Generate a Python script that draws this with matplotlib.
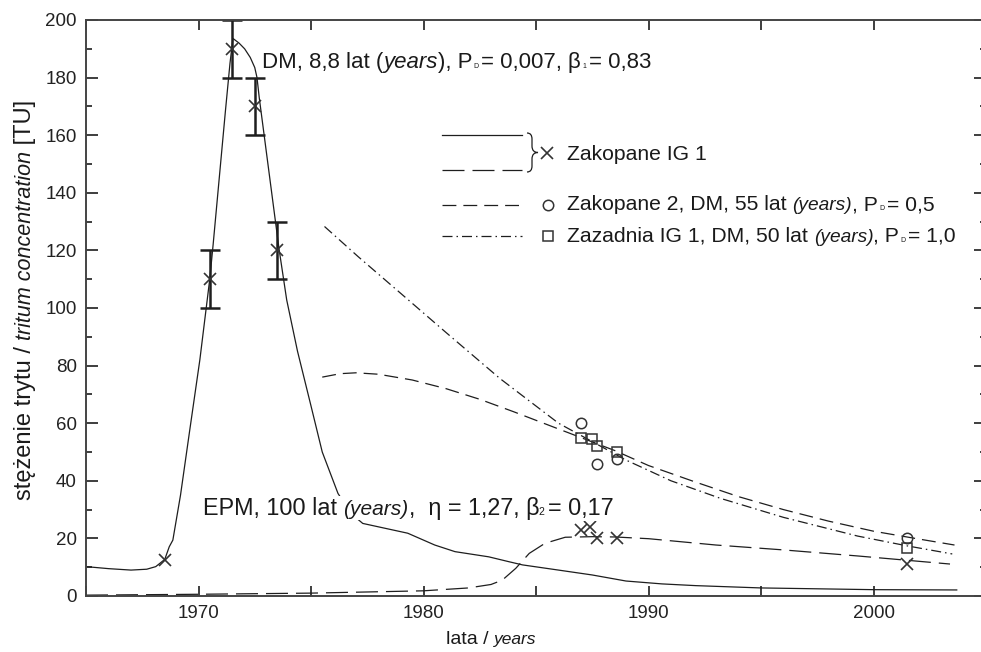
import matplotlib
matplotlib.use("Agg")
import numpy as np
import matplotlib.pyplot as plt
from matplotlib.lines import Line2D
from matplotlib.path import Path
from matplotlib.patches import PathPatch
from matplotlib.transforms import Affine2D

W, H = 981, 652
plt.rcParams["font.family"] = ["Liberation Sans", "DejaVu Sans"]

# ---- model curves -------------------------------------------------------
# DM, 8.8 years (Zakopane IG 1)
dm_year = [1965.0, 1966.0, 1967.0, 1967.7, 1968.1, 1968.5, 1968.7, 1968.86, 1969.2,
           1969.6, 1970.06, 1970.5, 1970.65, 1971.2, 1971.4, 1971.53, 1971.8, 1972.05,
           1972.3, 1972.5, 1972.6, 1972.7, 1973.58, 1973.92, 1974.4, 1975.0, 1975.5,
           1976.2, 1976.8, 1977.3, 1978.3, 1979.3, 1980.5, 1981.4, 1982.9, 1983.8,
           1984.4, 1986.0, 1987.5, 1989.0, 1990.6, 1992.1, 1995.0, 2000.0, 2003.7]
dm_tu = [10.2, 9.5, 9.0, 9.3, 10.2, 12.7, 17.1, 19.4, 35.0,
         57.0, 82.0, 110.0, 122.0, 168.7, 185.0, 193.6, 192.0, 190.0,
         187.0, 183.5, 180.0, 173.0, 120.5, 102.8, 85.0, 66.0, 50.0,
         35.6, 28.5, 25.2, 23.5, 21.8, 17.7, 15.4, 13.6, 11.9,
         10.8, 9.0, 7.3, 5.2, 4.2, 3.6, 2.8, 2.2, 2.1]

# EPM, 100 years (Zakopane IG 1)
epm_year = [1965.0, 1970.0, 1975.0, 1980.0, 1982.0, 1983.0, 1983.5, 1984.1, 1984.7,
            1985.4, 1986.3, 1987.5, 1988.5, 1990.0, 1993.0, 1996.0, 1999.3, 2003.4]
epm_tu = [0.3, 0.6, 1.0, 1.8, 2.8, 4.0, 5.5, 9.6, 14.8,
          18.3, 20.4, 20.6, 20.5, 19.9, 17.7, 16.0, 13.9, 11.1]

# DM, 55 years (Zakopane 2)
zak2_year = [1975.5, 1976.3, 1977.0, 1978.0, 1979.5, 1981.0, 1982.5, 1984.0, 1985.5,
             1987.0, 1988.5, 1990.0, 1992.0, 1994.0, 1996.0, 1998.0, 2000.0, 2002.0,
             2003.6]
zak2_tu = [76.0, 77.2, 77.5, 77.0, 75.0, 72.0, 68.3, 64.0, 59.5,
           55.0, 50.5, 45.3, 39.8, 34.5, 30.0, 26.0, 22.5, 19.8,
           17.7]

# DM, 50 years (Zazadnia IG 1)
zaz_year = [1975.6, 1977.1, 1979.0, 1981.0, 1983.4, 1986.0, 1989.0, 1991.0, 1993.2,
            1996.0, 1999.3, 2001.5, 2003.5]
zaz_tu = [128.3, 117.8, 105.0, 91.5, 75.5, 60.0, 47.2, 40.0, 33.9,
          27.3, 20.8, 17.4, 14.6]

# ---- measurements -------------------------------------------------------
ig1_year = [1968.5, 1970.5, 1971.5, 1972.5, 1973.5, 1987.0, 1987.4, 1987.7, 1988.6, 2001.5]
ig1_tu = [12.5, 110, 190, 170, 120, 23, 24, 20, 20, 11]
ig1_err = [0, 10, 10, 10, 10, 0, 0, 0, 0, 0]

zak2_obs_year = [1987.0, 1987.7, 1988.6, 2001.5]
zak2_obs_tu = [60, 46, 47.5, 20]

zaz_obs_year = [1987.0, 1987.5, 1987.7, 1988.6, 2001.5]
zaz_obs_tu = [55, 54.5, 52, 50, 16.5]

x_major = [1970, 1980, 1990, 2000]
x_minor = [1965, 1975, 1985, 1995, 2005]

ink = "#1e1e1e"
mk = "#333333"
lw = 0.9
dash_epm = (17.6, 6.4)
dash_zak2 = (11.1, 5.6)
dash_zaz = (8.0, 3.2, 1.2, 3.2)

fig = plt.figure(figsize=(W / 100, H / 100), dpi=100)
ax = fig.add_axes([86 / W, 56 / H, (986 - 86) / W, (596 - 20) / H])

ax.plot(dm_year, dm_tu, color=ink, lw=lw)
ax.plot(epm_year, epm_tu, color=ink, lw=lw, dashes=dash_epm)
ax.plot(zak2_year, zak2_tu, color=ink, lw=lw, dashes=dash_zak2)
ax.plot(zaz_year, zaz_tu, color=ink, lw=lw, dashes=dash_zaz)

iy = np.array(ig1_year)
it = np.array(ig1_tu, dtype=float)
ie = np.array(ig1_err, dtype=float)
m = ie > 0
ax.errorbar(iy[m], it[m], yerr=ie[m], fmt="none", ecolor=ink, elinewidth=1.8,
            capsize=7, capthick=1.8)
ax.plot(iy, it, ls="none", marker="x", ms=8.5, mew=1.2, color=mk)
ax.plot(zak2_obs_year, zak2_obs_tu, ls="none", marker="o", ms=7.5, mew=1.1,
        mfc="none", mec=mk)
ax.plot(zaz_obs_year, zaz_obs_tu, ls="none", marker="s", ms=7.5, mew=1.1,
        mfc="none", mec=mk)

ax.set_xlim(1965, 2005)
ax.set_ylim(0, 200)
ax.set_xticks(x_major)
ax.set_xticks(x_minor, minor=True)
ax.set_yticks(np.arange(0, 201, 20))
ax.set_yticks(np.arange(10, 200, 20), minor=True)
ax.tick_params(which="both", direction="in", top=True, right=True, color=ink,
               width=1.2)
ax.tick_params(axis="x", which="both", length=7.5)
ax.tick_params(axis="y", which="major", length=8.5)
ax.tick_params(axis="y", which="minor", length=4)
ax.tick_params(axis="both", which="major", labelsize=13.5, labelcolor="#222222",
               pad=6.5)
for sp in ax.spines.values():
    sp.set_linewidth(1.4)
    sp.set_color("#444444")

# ---- mixed-style text helpers ------------------------------------------
px = Affine2D().scale(1 / W, -1 / H).translate(0, 1) + fig.transFigure
renderer = fig.canvas.get_renderer()


def text_width(s, size, style):
    t1 = fig.text(0, 0, "|" + s + "|", fontsize=size, style=style)
    t2 = fig.text(0, 0, "||", fontsize=size, style=style)
    w = t1.get_window_extent(renderer).width - t2.get_window_extent(renderer).width
    t1.remove()
    t2.remove()
    return w


def rich_text(x, y, pieces, rotation=0, center=False, bg=False):
    widths = [text_width(s, sz, st) for s, sz, st in pieces]
    total = sum(widths)
    cur = -total / 2 if center else 0.0
    for (s, sz, st), w in zip(pieces, widths):
        if rotation == 0:
            X, Y = x + cur, y
        else:
            X, Y = x, y - cur
        kw = dict(fontsize=sz, style=st, ha="left", va="baseline", color="#1a1a1a",
                  rotation=rotation, rotation_mode="anchor", transform=px)
        if bg:
            kw["bbox"] = dict(fc="white", ec="none", pad=0.5)
        fig.text(X, Y, s, **kw)
        cur += w


N, IT = "normal", "italic"

R = 16
rich_text(262, 68, [("DM, 8,8 lat (", R, N), ("years", R, IT), ("), P", R, N),
                    (" D ", 5, N), ("= 0,007, β", R, N), (" 1 ", 5, N),
                    ("= 0,83", R, N)])
R = 16.8
rich_text(203, 515, [("EPM, 100 lat ", R, N), ("(years)", 15, IT),
                     (",  η = 1,27, β", R, N), ("2 ", 7.5, N), ("= 0,17", R, N)],
          bg=True)

# legend
fig.add_artist(Line2D([442, 522], [135, 135], transform=px, color=ink, lw=lw))
fig.add_artist(Line2D([442, 522], [170, 170], transform=px, color=ink, lw=lw,
                      dashes=dash_epm))
fig.add_artist(Line2D([442, 522], [204.5, 204.5], transform=px, color=ink, lw=lw,
                      dashes=dash_zak2))
fig.add_artist(Line2D([442, 522], [236, 236], transform=px, color=ink, lw=lw,
                      dashes=dash_zaz))
brace = Path([(527, 133), (532, 133), (532, 139), (532, 146), (532, 152.5),
              (538, 152.5), (532, 152.5), (532, 159), (532, 166), (532, 172), (527, 172)],
             [Path.MOVETO, Path.CURVE3, Path.CURVE3, Path.LINETO, Path.CURVE3,
              Path.CURVE3, Path.CURVE3, Path.CURVE3, Path.LINETO, Path.CURVE3,
              Path.CURVE3])
fig.add_artist(PathPatch(brace, transform=px, fill=False, lw=lw, ec=ink))
fig.add_artist(Line2D([547], [152.5], transform=px, ls="none", marker="x", ms=8.5,
                      mew=1.2, color=mk))
fig.add_artist(Line2D([548], [204.5], transform=px, ls="none", marker="o", ms=7.5,
                      mew=1.1, mfc="none", mec=mk))
fig.add_artist(Line2D([548], [236], transform=px, ls="none", marker="s", ms=7.5,
                      mew=1.1, mfc="none", mec=mk))
R, I = 15.2, 13.8
rich_text(567, 159.5, [("Zakopane IG 1", R, N)])
rich_text(567, 210.5, [("Zakopane 2, DM, 55 lat ", R, N), ("(years)", I, IT),
                       (", P", R, N), (" D ", 5, N), ("= 0,5", R, N)])
rich_text(567, 242, [("Zazadnia IG 1, DM, 50 lat ", R, N), ("(years)", I, IT),
                     (", P", R, N), (" D ", 5, N), ("= 1,0", R, N)])

# axis titles
rich_text(491, 644, [("lata / ", 14, N), ("years", 12.5, IT)], center=True)
rich_text(31, 300, [("stężenie trytu / ", 17, N), ("tritum concentration", 15.5, IT),
                    (" [TU]", 17, N)], rotation=90, center=True)

fig.savefig("out.png", dpi=100)
